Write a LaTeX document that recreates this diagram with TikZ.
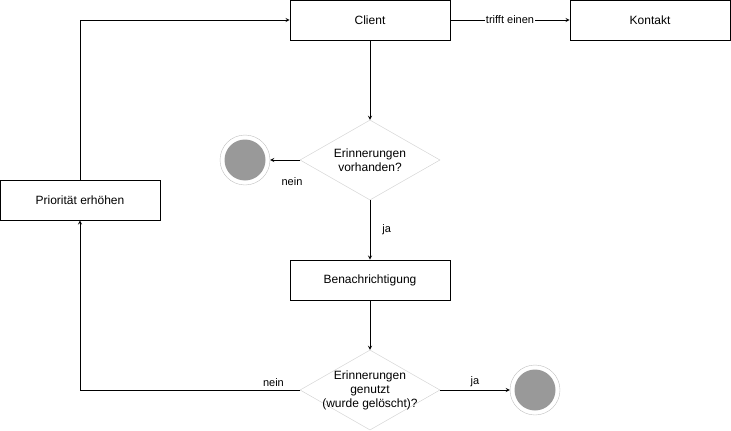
\documentclass[tikz,border=0pt]{standalone}
\usepackage{fontspec}
\setmainfont{Liberation Sans}
\usetikzlibrary{positioning,shapes.geometric,arrows}

\begin{document}
\begin{tikzpicture}[x=1pt,y=-1pt,>=stealth,
	box/.style={draw,thick,rectangle,minimum width=160pt,minimum height=40pt,inner sep=0pt,font=\fontsize{12}{14}\selectfont},
	decision/.style={draw=black!20,diamond,minimum width=140pt,minimum height=80pt,inner sep=0pt},
	endstate/.style={draw=black!25,circle,minimum size=50pt,inner sep=0pt},
	lbl/.style={font=\fontsize{11}{13}\selectfont,inner sep=1pt}]
\useasboundingbox (0,0) rectangle (731,431);

\node[box] (client) at (370,20) {Client};
\node[box] (kontakt) at (650,20) {Kontakt};
\node[decision,label={[align=center,font=\fontsize{12}{14}\selectfont]center:{Erinnerungen\\vorhanden?}}] (q1) at (370,160) {};
\node[box] (prio) at (80,200) {Priorität erhöhen};
\node[box] (benach) at (370,280) {Benachrichtigung};
\node[decision,label={[align=center,font=\fontsize{12}{14}\selectfont]center:{Erinnerungen\\genutzt\\(wurde gelöscht)?}}] (q2) at (370,390) {};
\foreach \n/\x/\y in {end1/245/160,end2/535/390}{
	\node[endstate] (\n) at (\x,\y) {};
	\fill[black!40] (\n) circle (20.5pt);
}

\draw[thick,->](client)--node[lbl,fill=white]{trifft einen}(kontakt);
\draw[thick,->](client)--(q1);
\draw[thick,->](q1)--node[lbl,right,xshift=11pt]{ja}(benach);
\draw[thick,->](q1.west)--(end1);
\node[lbl] (nein1) at (292,182) {nein};
\draw[thick,->](benach)--(q2);
\draw[thick,->](q2.east)--node[lbl,above,yshift=2pt]{ja}(end2);
\draw[thick,->](q2.west)-|node[lbl,above,pos=0.06,yshift=2pt]{nein}(prio);
\draw[thick,->](prio)|-(client);

\end{tikzpicture}
\end{document}
